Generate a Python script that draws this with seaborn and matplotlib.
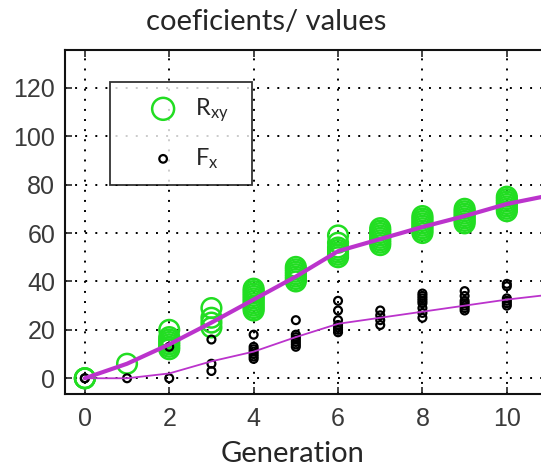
import matplotlib
matplotlib.use("Agg")
import matplotlib.pyplot as plt
from matplotlib import font_manager as fm
import seaborn as sns
import pandas as pd

# Per-generation samples of the two coefficients (several runs each)
rxy_samples = {
    0: [0, 0, 0],
    1: [6],
    2: [12, 13, 14, 15, 16, 17, 20],
    3: [21, 23, 25, 29],
    4: [28, 29, 30, 31, 32, 33, 34, 35, 36, 37],
    5: [40, 41, 42, 43, 44, 45, 46],
    6: [50, 51, 52, 53, 54, 56, 59],
    7: [55, 56, 57, 58, 59, 60, 61, 62],
    8: [60, 61, 62, 63, 64, 65, 66, 67],
    9: [64, 65, 66, 67, 68, 69, 70],
    10: [69, 70, 71, 72, 73, 74, 75],
}
fx_samples = {
    0: [0, 0],
    1: [0],
    2: [0, 13],
    3: [3, 6, 16],
    4: [8, 9, 10, 11, 12, 13, 18],
    5: [13, 14, 15, 16, 17, 18, 24],
    6: [19, 20, 21, 22, 24, 28, 32],
    7: [22, 24, 26, 28],
    8: [25, 27, 29, 31, 32, 33, 34, 35],
    9: [28, 29, 30, 31, 32, 34, 36],
    10: [30, 31, 32, 33, 38, 39],
}

# Mean trend curves
trend_gen = [0, 1, 2, 3, 4, 5, 6, 7, 8, 9, 10, 11]
rxy_trend = [0, 6, 14, 23, 32.5, 42, 52.5, 57.5, 62.5, 67, 72, 75.5]
fx_trend = [0, 0, 2, 7, 11, 17, 22.5, 25, 27.5, 30, 32.5, 34.5]

x_ticks = [0, 2, 4, 6, 8, 10]
y_ticks = [0, 20, 40, 60, 80, 100, 120]

rxy_df = pd.DataFrame([(g, v) for g, vs in rxy_samples.items() for v in vs],
                      columns=["Generation", "value"])
fx_df = pd.DataFrame([(g, v) for g, vs in fx_samples.items() for v in vs],
                     columns=["Generation", "value"])
trend_df = pd.DataFrame({"Generation": trend_gen, "rxy": rxy_trend, "fx": fx_trend})


def installed(name):
    try:
        fm.findfont(name, fallback_to_default=False)
        return True
    except Exception:
        return False


if installed("Liberation Sans Narrow"):
    tick_family, tick_size = "Liberation Sans Narrow", 20
else:
    tick_family, tick_size = "Liberation Sans", 18
text_family = "Lato"

sns.set_style("white")
plt.rcParams["font.family"] = [tick_family, "DejaVu Sans"]
plt.rcParams["mathtext.default"] = "regular"
plt.rcParams["mathtext.fontset"] = "custom"
plt.rcParams["mathtext.rm"] = text_family

fig = plt.figure(figsize=(5.41, 4.70), dpi=100)
ax_w_px = 541 - 65 + 27
ax = fig.add_axes([65 / 541, 1 - 394 / 470, ax_w_px / 541, 344 / 470])

green = "#22dd22"
magenta = "#bb33cc"

sns.scatterplot(data=rxy_df, x="Generation", y="value", ax=ax, marker="o",
                s=200, facecolors="none", edgecolor=green, linewidth=1.8,
                label=r"R$_{xy}$", zorder=3)
sns.scatterplot(data=fx_df, x="Generation", y="value", ax=ax, marker="o",
                s=32, facecolors="none", edgecolor="black", linewidth=1.6,
                label=r"F$_{x}$", zorder=4)
sns.lineplot(data=trend_df, x="Generation", y="rxy", ax=ax, color=magenta,
             linewidth=3.0, zorder=5, legend=False)
sns.lineplot(data=trend_df, x="Generation", y="fx", ax=ax, color=magenta,
             linewidth=1.3, zorder=5, legend=False)

ax.set_xlim(-0.47, -0.47 + ax_w_px / 42.2)
ax.set_ylim(-6.5, 135.6)
ax.set_xticks(x_ticks)
ax.set_yticks(y_ticks)
ax.grid(True, color="black", linestyle=(0, (1, 4.2)), linewidth=1.4)
ax.tick_params(direction="in", length=5, width=1.2, labelcolor="#3a3a3a",
               labelsize=tick_size, top=True, left=True, bottom=True)
ax.tick_params(axis="x", pad=9)
ax.tick_params(axis="y", pad=7)
for side in ["left", "bottom", "top"]:
    ax.spines[side].set_color("#111111")
    ax.spines[side].set_linewidth(1.5)
ax.spines["right"].set_visible(False)

ax.set_xlabel("")
ax.set_ylabel("")
fig.text(293 / 541, 1 - 454 / 470, "Generation", fontsize=21,
         family=text_family, ha="center", va="center")
fig.text(266 / 541, 1 - 22 / 470, "coeficients/ values", fontsize=21,
         family=text_family, ha="center", va="center")

leg = ax.legend(loc="upper left",
                bbox_to_anchor=(45 / ax_w_px, 0.908, 142 / ax_w_px, 0.0),
                mode="expand", frameon=True, fancybox=False,
                prop={"family": text_family, "size": 17},
                labelspacing=0.95, handletextpad=-0.3, borderpad=0.6,
                handlelength=3.3, borderaxespad=0.0)
leg.get_frame().set_edgecolor("black")
leg.get_frame().set_linewidth(1.3)
leg.legend_handles[0].set_sizes([250])
leg.legend_handles[1].set_sizes([30])

fig.savefig("out.png", dpi=100)
